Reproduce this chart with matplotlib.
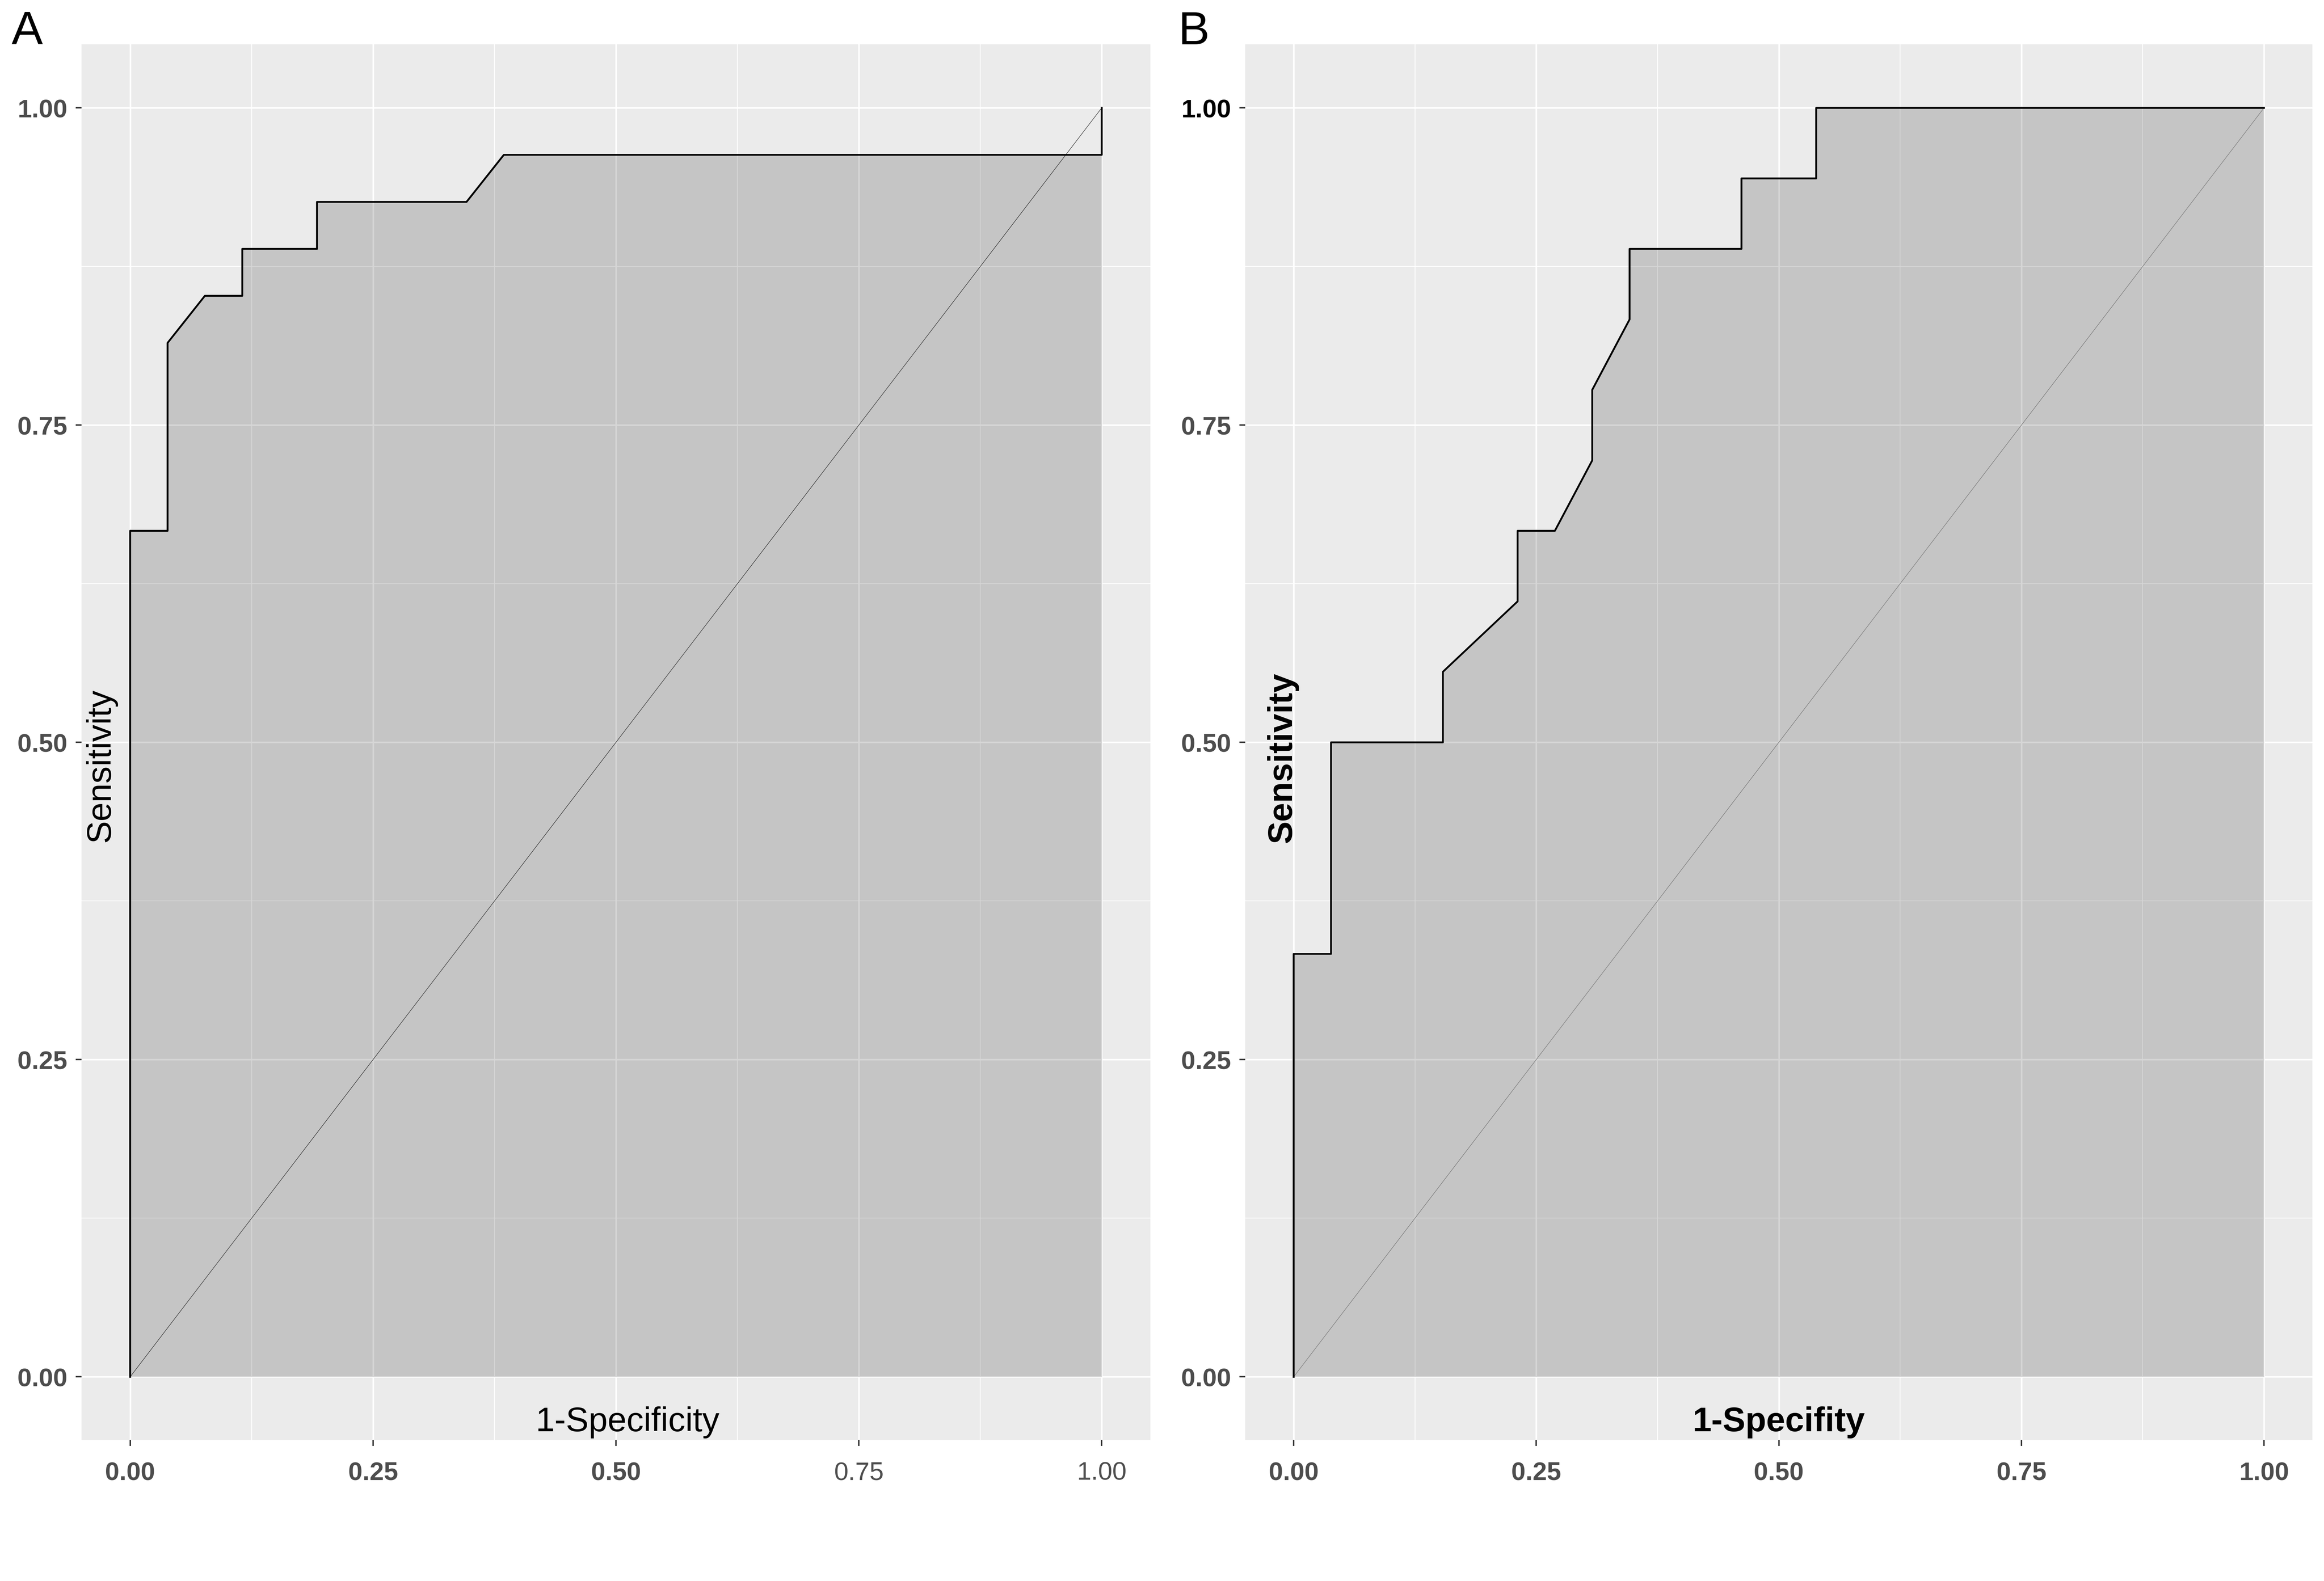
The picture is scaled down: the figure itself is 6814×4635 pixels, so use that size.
# ROC curves, two panels (A, B)
import matplotlib
matplotlib.use("Agg")
import matplotlib.pyplot as plt
from matplotlib.ticker import MultipleLocator

plt.rcParams['font.family'] = ['Liberation Sans', 'DejaVu Sans']

# panel A: 1-specificity / sensitivity steps
fpr_a = [0.0, 0.0, 0.0385, 0.0385, 0.0769, 0.1154, 0.1154, 0.1923, 0.1923, 0.3462, 0.3846, 1.0, 1.0]
tpr_a = [0.0, 0.6667, 0.6667, 0.8148, 0.8519, 0.8519, 0.8889, 0.8889, 0.9259, 0.9259, 0.9630, 0.9630, 1.0]

# panel B
fpr_b = [0.0, 0.0, 0.0385, 0.0385, 0.1538, 0.1538, 0.2308, 0.2308, 0.2692, 0.3077, 0.3077,
         0.3462, 0.3462, 0.4615, 0.4615, 0.5385, 0.5385, 1.0]
tpr_b = [0.0, 0.3333, 0.3333, 0.5, 0.5, 0.5556, 0.6111, 0.6667, 0.6667, 0.7222, 0.7778,
         0.8333, 0.8889, 0.8889, 0.9444, 0.9444, 1.0, 1.0]

tick_vals = [0.0, 0.25, 0.5, 0.75, 1.0]
tick_labels = ["0.00", "0.25", "0.50", "0.75", "1.00"]

fig = plt.figure(figsize=(6815 / 300, 4635 / 300), dpi=300)
axA = fig.add_axes([0.0351, 0.089, 0.4598, 0.8829])
axB = fig.add_axes([0.5357, 0.089, 0.4592, 0.8829])


def roc_panel(ax, fpr, tpr, diag_color):
    ax.set_facecolor("#EBEBEB")
    for s in ax.spines.values():
        s.set_visible(False)
    ax.set_axisbelow(True)
    ax.xaxis.set_minor_locator(MultipleLocator(0.125))
    ax.yaxis.set_minor_locator(MultipleLocator(0.125))
    ax.grid(which="major", color="white", lw=1.1)
    ax.grid(which="minor", color="white", lw=0.55)
    ax.tick_params(which="minor", length=0)
    ax.tick_params(which="major", length=4, width=1.0, color="#333333")
    ax.tick_params(axis="y", pad=6)
    ax.tick_params(axis="x", pad=11)

    ax.fill_between(fpr, tpr, 0, color="black", alpha=0.16, lw=0, zorder=2)
    ax.plot([0, 1], [0, 1], color=diag_color, lw=0.35, zorder=3)
    ax.plot(fpr, tpr, color="black", lw=1.3, zorder=4)

    ax.set_xlim(-0.05, 1.05)
    ax.set_ylim(-0.05, 1.05)
    ax.set_xticks(tick_vals)
    ax.set_yticks(tick_vals)
    ax.set_xticklabels(tick_labels, fontsize=18, color="#4D4D4D")
    ax.set_yticklabels(tick_labels, fontsize=18, color="#4D4D4D", fontweight="bold")


roc_panel(axA, fpr_a, tpr_a, "#333333")
roc_panel(axB, fpr_b, tpr_b, "#7A7A7A")

# tick label weights as in the original
for i, lab in enumerate(axA.get_xticklabels()):
    lab.set_fontweight("bold" if i < 3 else "normal")
for lab in axB.get_xticklabels():
    lab.set_fontweight("bold")
axB.get_yticklabels()[-1].set_color("black")

# axis titles sit inside the panels
axA.text(0.511, 0.0065, "1-Specificity", transform=axA.transAxes, fontsize=24,
         ha="center", va="baseline", zorder=5)
axA.text(0.018, 0.4835, "Sensitivity", transform=axA.transAxes, fontsize=24,
         rotation=90, ha="center", va="center", zorder=5)
axB.text(0.5, 0.0065, "1-Specifity", transform=axB.transAxes, fontsize=24,
         fontweight="bold", ha="center", va="baseline", zorder=5)
axB.text(0.035, 0.489, "Sensitivity", transform=axB.transAxes, fontsize=24,
         fontweight="bold", rotation=90, ha="center", va="center", zorder=5)

# panel letters
fig.text(0.005, 0.972, "A", fontsize=33, ha="left", va="baseline")
fig.text(0.507, 0.972, "B", fontsize=33, ha="left", va="baseline")

fig.savefig("out.png", dpi=300, facecolor="white")
